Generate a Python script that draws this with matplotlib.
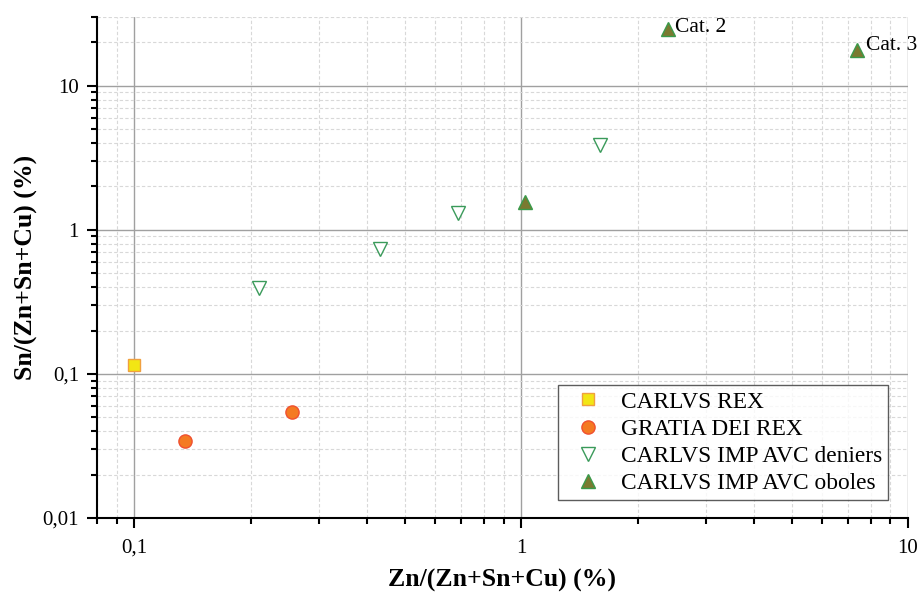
import matplotlib.pyplot as plt
from matplotlib.ticker import LogLocator, NullFormatter

plt.rcParams['font.family'] = ['Liberation Serif', 'DejaVu Serif']

# données
rex_x = [0.1]
rex_y = [0.116]
gratia_x = [0.135, 0.255]
gratia_y = [0.034, 0.054]
deniers_x = [0.21, 0.432, 0.687, 1.6]
deniers_y = [0.395, 0.74, 1.31, 3.9]
oboles_x = [1.02, 2.4, 7.4]
oboles_y = [1.56, 24.9, 17.8]
oboles_labels = ['', 'Cat. 2', 'Cat. 3']

fig = plt.figure(figsize=(9.22, 5.95), dpi=100)
ax = fig.add_axes([0.1052, 0.1294, 0.8796, 0.842])

ax.set_xscale('log')
ax.set_yscale('log')
ax.set_xlim(0.08, 10)
ax.set_ylim(0.01, 30)

ax.grid(True, which='major', color='#a0a0a0', lw=1.0, ls='-')
ax.grid(True, which='minor', color='#d8d8d8', lw=0.8, ls=(0, (3, 2)))
ax.set_axisbelow(True)

ax.plot(rex_x, rex_y, 's', ms=8.5, mfc='#f2e614', mec='#f0a040', mew=1.0,
        label='CARLVS REX', zorder=3)
ax.plot(gratia_x, gratia_y, 'o', ms=9.5, mfc='#f47a22', mec='#f05030', mew=1.0,
        label='GRATIA DEI REX', zorder=3)
ax.plot(deniers_x, deniers_y, 'v', ms=10, mfc='white', mec='#3a9a5a', mew=1.0,
        label='CARLVS IMP AVC deniers', zorder=3)
ax.plot(oboles_x, oboles_y, '^', ms=10, mfc='#7a7a30', mec='#3a9a4a', mew=1.0,
        label='CARLVS IMP AVC oboles', zorder=3)

# étiquettes Cat. 2 / Cat. 3
offsets = [(0, 0), (5, 1), (6, 3)]
for x, y, t, off in zip(oboles_x, oboles_y, oboles_labels, offsets):
    if t:
        ax.annotate(t, (x, y), xytext=off, textcoords='offset points',
                    fontsize=15.5, va='center', ha='left')

for s in ['top', 'right']:
    ax.spines[s].set_visible(False)
for s in ['left', 'bottom']:
    ax.spines[s].set_linewidth(1.5)

ax.xaxis.set_minor_locator(LogLocator(base=10, subs=range(2, 10), numticks=20))
ax.yaxis.set_minor_locator(LogLocator(base=10, subs=range(2, 10), numticks=20))
ax.set_xticks([0.1, 1, 10])
ax.set_xticklabels(['0,1', '1', '10'])
ax.set_yticks([0.01, 0.1, 1, 10])
ax.set_yticklabels(['0,01', '0,1', '1', '10'])
ax.xaxis.set_minor_formatter(NullFormatter())
ax.yaxis.set_minor_formatter(NullFormatter())

ax.tick_params(which='major', direction='out', length=7, width=1.5, labelsize=15, pad=6)
ax.tick_params(axis='x', which='major', pad=8)
ax.tick_params(which='minor', direction='out', length=4, width=1.5)

ax.set_xlabel('Zn/(Zn+Sn+Cu) (%)', fontsize=18.5, fontweight='bold', labelpad=8)
ax.set_ylabel('Sn/(Zn+Sn+Cu) (%)', fontsize=18.5, fontweight='bold', labelpad=3)

leg = ax.legend(loc='lower right', bbox_to_anchor=(0.9753, 0.036), borderaxespad=0,
                fontsize=16.8, frameon=True, fancybox=False, edgecolor='#333333',
                borderpad=0.25, labelspacing=0.25, handletextpad=0.35, handlelength=2.1)
leg.get_frame().set_linewidth(1.0)

fig.savefig('out.png', dpi=100)
